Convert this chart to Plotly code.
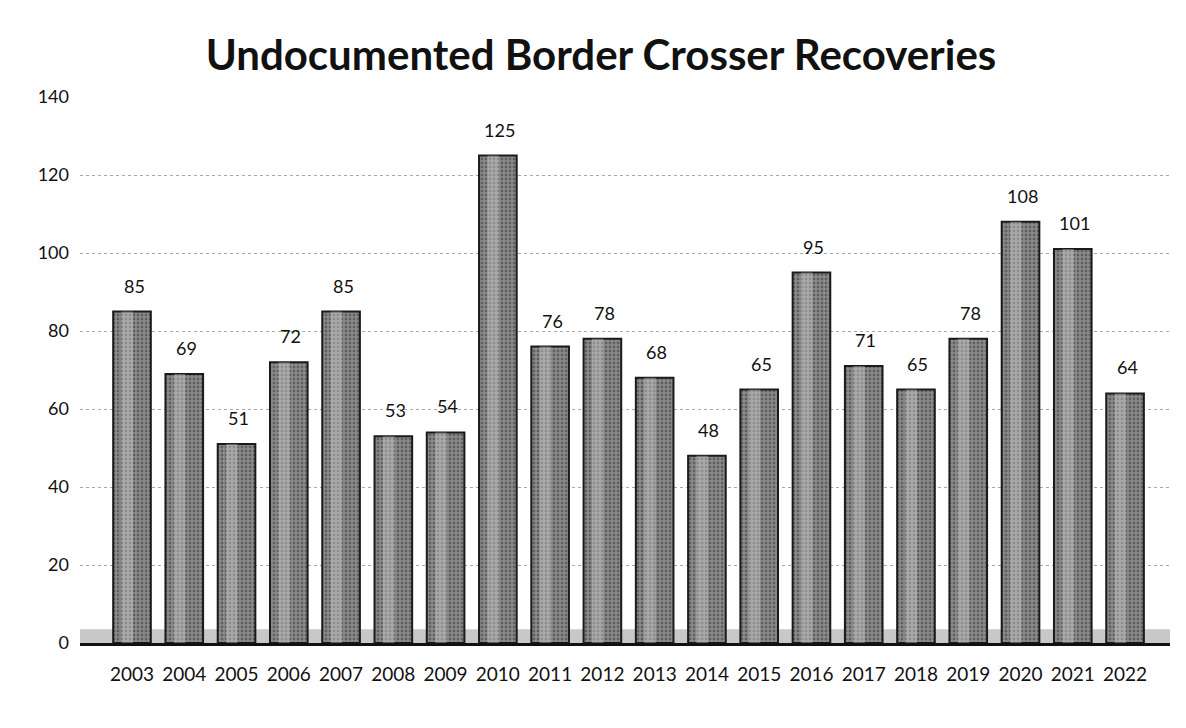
import plotly.graph_objects as go

years = ["2003", "2004", "2005", "2006", "2007", "2008", "2009", "2010", "2011", "2012",
         "2013", "2014", "2015", "2016", "2017", "2018", "2019", "2020", "2021", "2022"]
recoveries = [85, 69, 51, 72, 85, 53, 54, 125, 76, 78, 68, 48, 65, 95, 71, 65, 78, 108, 101, 64]
y_ticks = [0, 20, 40, 60, 80, 100, 120, 140]

xpos = list(range(len(years)))
font = "Lato, 'Open Sans', sans-serif"

fig = go.Figure()
fig.add_trace(go.Bar(
    x=xpos, y=recoveries,
    width=0.72,
    marker=dict(color="#7a7a7a", line=dict(color="#1a1a1a", width=2),
                pattern=dict(shape=".", fgcolor="#333333", bgcolor="#8c8c8c", size=4, solidity=0.4)),
    showlegend=False,
))
# inner highlight to suggest the cylindrical shading
fig.add_trace(go.Bar(
    x=xpos, y=recoveries,
    width=0.22, offset=-0.2,
    marker=dict(color="rgba(230,230,230,0.35)", line=dict(width=0)),
    hoverinfo="skip", showlegend=False,
))

annotations = [dict(x=xv, y=v, text=str(v), showarrow=False, xref="x", yref="y",
                    yanchor="bottom", yshift=13, xshift=2,
                    font=dict(size=18, color="#111111", family=font))
               for xv, v in zip(xpos, recoveries)]

fig.update_layout(
    barmode="overlay",
    width=1186, height=728,
    margin=dict(l=72, r=24, t=89, b=93),
    paper_bgcolor="white",
    plot_bgcolor="white",
    title=dict(text="<b>Undocumented Border Crosser Recoveries</b>",
               x=0.5, xanchor="center", y=0.935, yanchor="middle",
               font=dict(size=42, color="#111111", family=font)),
    font=dict(family=font, color="#111111"),
    annotations=annotations,
    shapes=[dict(type="rect", xref="paper", yref="y", x0=0, x1=1, y0=0, y1=3.5,
                 fillcolor="#c8c8c8", line=dict(width=0), layer="below")],
)
fig.update_xaxes(
    tickmode="array", tickvals=xpos, ticktext=years,
    range=[-0.995, 19.86],
    showgrid=False, zeroline=False,
    showline=True, linecolor="#111111", linewidth=3,
    ticks="", ticklabelstandoff=12, tickfont=dict(size=19, color="#111111"),
)
fig.update_yaxes(
    range=[0, 140], tickvals=y_ticks,
    showgrid=True, gridcolor="#a8a8a8", griddash="dot", gridwidth=1,
    zeroline=False, showline=False, ticks="", ticklabelstandoff=10,
    tickfont=dict(size=18, color="#111111"),
)

fig.write_html("out.html")
